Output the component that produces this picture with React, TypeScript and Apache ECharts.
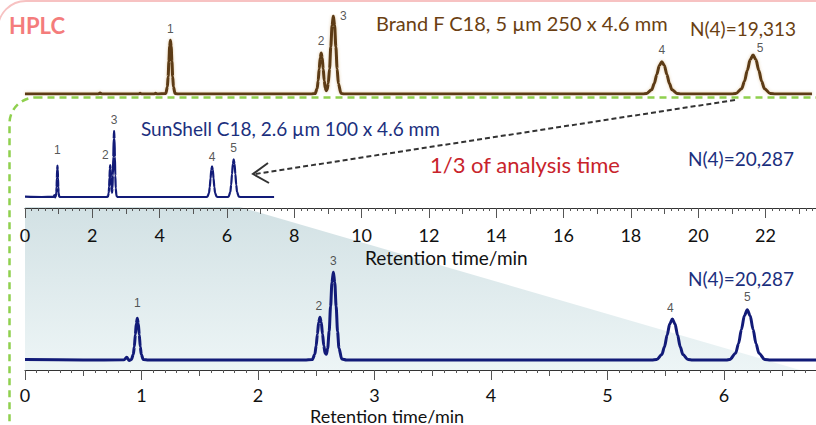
import React, { useEffect, useRef } from "react";
import * as echarts from "echarts";

// ---------- data ----------
const peakNames = ["1", "2", "3", "4", "5"];

// Brand F C18, 5 µm 250 x 4.6 mm (time in min, relative signal)
const brandFPeakTimes = [4.32, 8.8, 9.16, 18.92, 21.63];
const brandFPeakHeights = [69, 52.6, 100, 41.4, 50];
const brandFTrace: [number, number][] = [
  [0, 0], [2.18, 0], [2.23, 1.2], [2.28, 0], [3.38, 0], [3.42, 1.0], [3.46, 0], [3.84, 0], [3.88, 1.0], [3.92, 0],
  [4.185, 0.8], [4.23, 9.3], [4.2525, 22.4], [4.275, 41.9], [4.2975, 60.9], [4.32, 69], [4.3425, 60.9], [4.365, 41.9], [4.3875, 22.4], [4.41, 9.3], [4.455, 0.8], [4.55, 0],
  [8.5, 0], [8.62, 0.6], [8.68, 7.1], [8.71, 17.1], [8.74, 31.9], [8.77, 46.4], [8.8, 52.6], [8.83, 46.4], [8.86, 31.9], [8.89, 17.1], [8.92, 7.7], [8.95, 4.3], [8.98, 6.2],
  [9.01, 13.6], [9.048, 32.5], [9.085, 60.7], [9.123, 88.2], [9.16, 100], [9.198, 88.2], [9.235, 60.7], [9.273, 32.5], [9.31, 13.5], [9.385, 1.1], [9.48, 0],
  [18.35, 0], [18.47, 0.5], [18.62, 5.6], [18.695, 13.5], [18.77, 25.1], [18.845, 36.5], [18.92, 41.4], [18.995, 36.5], [19.07, 25.1], [19.145, 13.5], [19.22, 5.6], [19.37, 0.5], [19.5, 0],
  [21.0, 0], [21.12, 0.6], [21.29, 6.8], [21.375, 16.2], [21.46, 30.4], [21.545, 44.1], [21.63, 50], [21.715, 44.1], [21.8, 30.4], [21.885, 16.2], [21.97, 6.8], [22.14, 0.6], [22.3, 0], [23.38, 0],
];

// SunShell C18, 2.6 µm 100 x 4.6 mm
const sunShellPeakTimes = [0.964, 2.532, 2.647, 5.557, 6.2];
const sunShellPeakHeights = [47.4, 48.5, 100, 46.6, 57];
const sunShellTrace: [number, number][] = [
  [0, 0.5], [0.5, 0], [0.85, 0.2], [0.873, 3], [0.895, -0.5], [0.913, 0.5], [0.93, 6.6], [0.9385, 15], [0.947, 28.7], [0.9555, 41.4], [0.964, 47.4], [0.9725, 41.4], [0.981, 28.7], [0.9895, 15], [0.998, 6.6], [1.015, 0.5], [1.06, 0],
  [2.4, 0], [2.466, 0.5], [2.488, 6.5], [2.499, 15.8], [2.51, 29.4], [2.521, 42.8], [2.532, 48.5], [2.543, 42.8], [2.554, 29.5], [2.565, 16.1], [2.576, 7.8], [2.587, 6.5],
  [2.598, 13], [2.611, 32.6], [2.623, 60.7], [2.635, 88.2], [2.647, 100], [2.659, 88.2], [2.671, 60.7], [2.683, 32.5], [2.695, 13.5], [2.719, 1.1], [2.76, 0],
  [5.38, 0], [5.422, 0.5], [5.467, 6.3], [5.4895, 15.1], [5.512, 28.3], [5.5345, 41.1], [5.557, 46.6], [5.5795, 41.1], [5.602, 28.3], [5.6245, 15.1], [5.647, 6.3], [5.692, 0.5], [5.73, 0],
  [6.02, 0], [6.05, 0.6], [6.1, 7.7], [6.125, 18.5], [6.15, 34.6], [6.175, 50.3], [6.2, 57], [6.225, 50.3], [6.25, 34.6], [6.275, 18.5], [6.3, 7.7], [6.35, 0.6], [6.4, 0], [7.4, 0],
];

// axis tick labels
const wideAxisLabels = [0, 2, 4, 6, 8, 10, 12, 14, 16, 18, 20, 22];
const narrowAxisLabels = [0, 1, 2, 3, 4, 5, 6];

const titleBrandF = "Brand F C18, 5 µm 250 x 4.6 mm";
const titleSunShell = "SunShell C18, 2.6 µm 100 x 4.6 mm";
const plateBrandF = "N(4)=19,313";
const plateSunShell = "N(4)=20,287";
const speedNote = "1/3 of analysis time";
const axisTitle = "Retention time/min";

// ---------- styling ----------
const BROWN = "#5b3a12";
const BROWN_TEXT = "#6b3f12";
const NAVY = "#121b78";
const NAVY_TEXT = "#1b2f7e";
const FONT = "Lato, 'Open Sans', sans-serif";

const labelNudgeTop: [number, number][] = [[0, 0], [0, 0], [10, 11], [0, 0], [7, 4]];
const labelNudgeSmall: [number, number][] = [[0, -4], [-5, 2], [0, 0], [0, 2], [0, 0]];
const labelNudgeBottom: [number, number][] = [[0, -4], [-1, 0], [0, 0], [-2, 1], [0, -1]];

function peakLabelSeries(times: number[], heights: number[], nudges: [number, number][], xi: number, yi: number) {
  return {
    type: "scatter",
    xAxisIndex: xi,
    yAxisIndex: yi,
    symbolSize: 1,
    itemStyle: { color: "rgba(0,0,0,0)" },
    silent: true,
    z: 5,
    data: times.map((t, i) => ({
      value: [t, heights[i]],
      name: peakNames[i],
      label: { offset: nudges[i] },
    })),
    label: {
      show: true,
      position: "top",
      distance: 5,
      formatter: "{b}",
      fontSize: 12,
      color: "#2a2a2a",
      fontFamily: "'Liberation Sans', Arial, sans-serif",
    },
  };
}

function text(x: number, y: number, t: string, size: number, color: string, extra: any = {}) {
  return {
    type: "text",
    x,
    y,
    z: 10,
    style: {
      text: t,
      fontSize: size,
      fontFamily: FONT,
      fill: color,
      align: "left",
      verticalAlign: "middle",
      ...extra,
    },
  };
}

export default function App() {
  const ref = useRef<HTMLDivElement>(null);

  useEffect(() => {
    if (!ref.current) return;
    const chart = echarts.init(ref.current, undefined, { renderer: "svg" });

    const tickStyle = { color: "#555", width: 1 };
    const axisLabelStyle = {
      fontSize: 18,
      color: "#111",
      fontFamily: FONT,
      showMaxLabel: false,
    };

    const option: any = {
      animation: false,
      backgroundColor: "#ffffff",
      grid: [
        { left: 25, width: 791, top: 16, height: 78 },
        { left: 25, width: 791, top: 131, height: 77 },
        { left: 25, width: 791, top: 272, height: 98 },
      ],
      xAxis: [
        { gridIndex: 0, type: "value", min: 0, max: 23.5, show: false },
        {
          gridIndex: 1,
          type: "value",
          min: 0,
          max: 23.5,
          interval: 2,
          position: "bottom",
          axisLine: { show: true, onZero: false, lineStyle: { color: "#333", width: 1.2 } },
          axisTick: { show: true, length: 10, lineStyle: tickStyle },
          minorTick: { show: true, splitNumber: 10, length: 3, lineStyle: tickStyle },
          splitLine: { show: false },
          axisLabel: {
            ...axisLabelStyle,
            margin: 18,
            formatter: (v: number) => (wideAxisLabels.includes(v) ? String(v) : ""),
          },
        },
        {
          gridIndex: 1,
          type: "value",
          min: 0,
          max: 23.5,
          interval: 1,
          position: "bottom",
          axisLine: { show: false, onZero: false },
          axisTick: { show: true, length: 6, lineStyle: tickStyle },
          axisLabel: { show: false },
          splitLine: { show: false },
        },
        {
          gridIndex: 2,
          type: "value",
          min: 0,
          max: 6.79,
          interval: 1,
          position: "bottom",
          axisLine: { show: true, onZero: false, lineStyle: { color: "#333", width: 1.2 } },
          axisTick: { show: true, length: 10, lineStyle: tickStyle },
          minorTick: { show: true, splitNumber: 10, length: 3, lineStyle: tickStyle },
          splitLine: { show: false },
          axisLabel: {
            ...axisLabelStyle,
            margin: 16,
            formatter: (v: number) => (narrowAxisLabels.includes(v) ? String(v) : ""),
          },
        },
        {
          gridIndex: 2,
          type: "value",
          min: 0,
          max: 6.79,
          interval: 0.5,
          position: "bottom",
          axisLine: { show: false, onZero: false },
          axisTick: { show: true, length: 6, lineStyle: tickStyle },
          axisLabel: { show: false },
          splitLine: { show: false },
        },
      ],
      yAxis: [
        { gridIndex: 0, type: "value", min: 0, max: 100, show: false },
        { gridIndex: 1, type: "value", min: -16.67, max: 100, show: false },
        { gridIndex: 2, type: "value", min: -11.36, max: 100, show: false },
      ],
      series: [
        {
          type: "line",
          xAxisIndex: 0,
          yAxisIndex: 0,
          data: brandFTrace,
          showSymbol: false,
          smooth: 0.3,
          smoothMonotone: "x",
          lineStyle: { color: BROWN, width: 3, shadowColor: "rgba(190,140,70,0.45)", shadowBlur: 3 },
          silent: true,
          z: 3,
        },
        peakLabelSeries(brandFPeakTimes, brandFPeakHeights, labelNudgeTop, 0, 0),
        {
          type: "line",
          xAxisIndex: 1,
          yAxisIndex: 1,
          data: sunShellTrace,
          showSymbol: false,
          smooth: 0.3,
          smoothMonotone: "x",
          lineStyle: { color: NAVY, width: 2.2 },
          silent: true,
          z: 3,
        },
        peakLabelSeries(sunShellPeakTimes, sunShellPeakHeights, labelNudgeSmall, 1, 1),
        {
          type: "line",
          xAxisIndex: 3,
          yAxisIndex: 2,
          data: sunShellTrace,
          showSymbol: false,
          smooth: 0.3,
          smoothMonotone: "x",
          lineStyle: { color: NAVY, width: 3 },
          silent: true,
          z: 3,
        },
        peakLabelSeries(sunShellPeakTimes, sunShellPeakHeights, labelNudgeBottom, 3, 2),
      ],
      graphic: [
        {
          type: "polygon",
          z: -1,
          silent: true,
          shape: { points: [[25, 207], [240, 207], [800, 370], [25, 370]] },
          style: {
            fill: new echarts.graphic.LinearGradient(0, 0, 0, 1, [
              { offset: 0, color: "#d2e1e4" },
              { offset: 1, color: "#edf5f6" },
            ]),
          },
        },
        {
          type: "rect",
          z: 1,
          silent: true,
          shape: { x: -2, y: 1, width: 1000, height: 800, r: 28 },
          style: { fill: "none", stroke: "#f7c2c2", lineWidth: 1.8 },
        },
        {
          type: "rect",
          z: 1,
          silent: true,
          shape: { x: 9.5, y: 97.5, width: 900, height: 600, r: 26 },
          style: { fill: "none", stroke: "#8fd04e", lineWidth: 2.5, lineDash: [7, 5] },
        },
        {
          type: "line",
          z: 4,
          silent: true,
          shape: { x1: 735, y1: 100, x2: 255, y2: 174 },
          style: { stroke: "#333", lineWidth: 2, lineDash: [5, 3] },
        },
        {
          type: "polyline",
          z: 4,
          silent: true,
          shape: { points: [[268, 163], [253, 174], [269, 183]] },
          style: { stroke: "#333", lineWidth: 2, fill: "none" },
        },
        text(9, 25, "HPLC", 22, "#f47c7c", { fontWeight: "bold" }),
        text(376, 23, titleBrandF, 20, BROWN_TEXT),
        text(690, 28, plateBrandF, 19, BROWN_TEXT),
        text(141, 128, titleSunShell, 19, NAVY_TEXT),
        text(688, 158, plateSunShell, 19, NAVY_TEXT),
        text(430, 164, speedNote, 22, "#c8232b"),
        text(688, 278, plateSunShell, 19, NAVY_TEXT),
        text(365, 257.5, axisTitle, 19, "#111"),
        text(310, 415.5, axisTitle, 18, "#111"),
      ],
    };

    chart.setOption(option);
    return () => chart.dispose();
  }, []);

  return (
    <div
      ref={ref}
      style={{ position: "absolute", left: 0, top: 0, width: 816, height: 425 }}
    />
  );
}
